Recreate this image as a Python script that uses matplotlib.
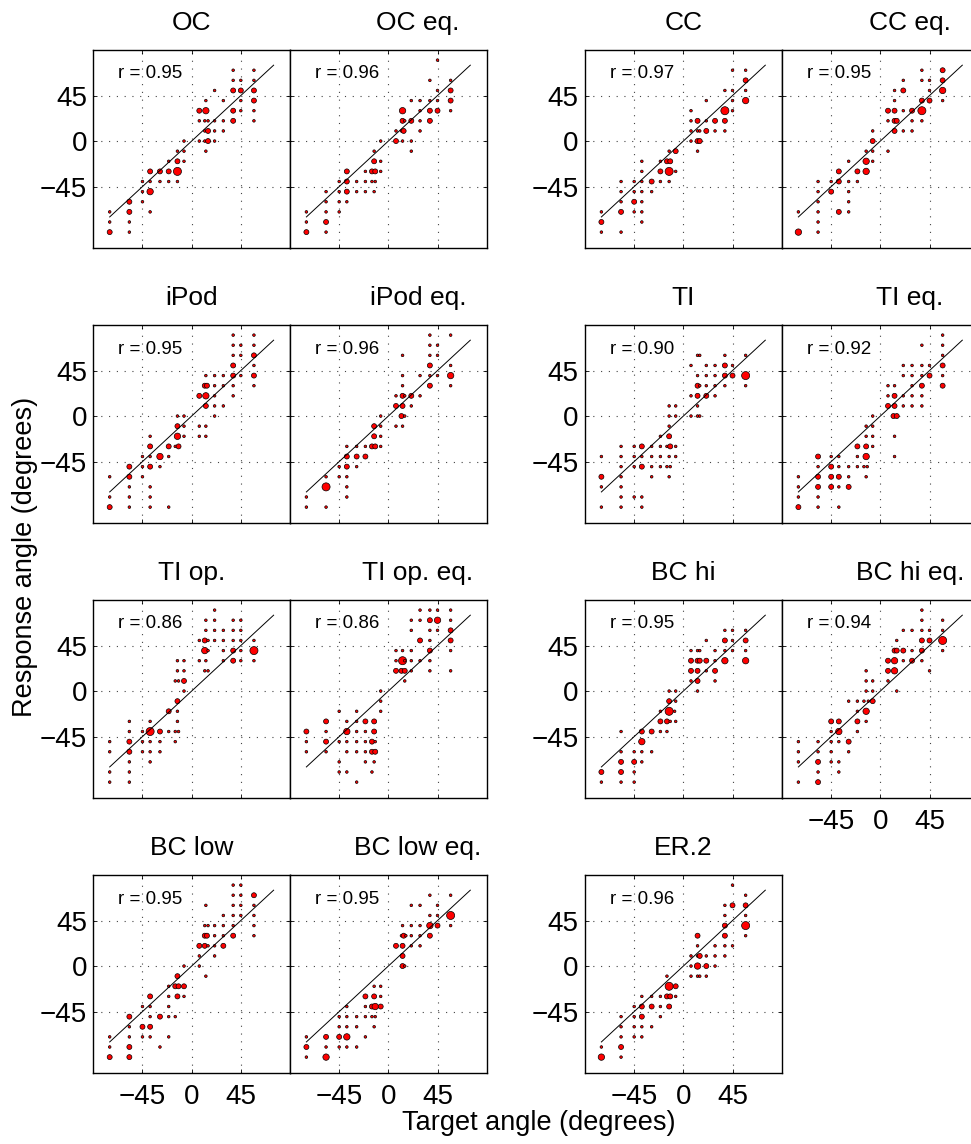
import matplotlib
matplotlib.use("Agg")
import matplotlib.pyplot as plt

plt.rcParams['font.family'] = ['Liberation Sans', 'DejaVu Sans']

# Panel titles and correlation coefficients (row-major order)
titles = ["OC", "OC eq.", "CC", "CC eq.",
          "iPod", "iPod eq.", "TI", "TI eq.",
          "TI op.", "TI op. eq.", "BC hi", "BC hi eq.",
          "BC low", "BC low eq.", "ER.2"]
r_values = [0.95, 0.96, 0.97, 0.95,
            0.95, 0.96, 0.90, 0.92,
            0.86, 0.86, 0.95, 0.94,
            0.95, 0.95, 0.96]

axis_ticks = [-45, 0, 45]

# (target angle, response angle, number of responses)
oc = [(38,70,1),(57,70,1),
      (38,60,1),(45,60,1),(57,60,1),
      (21,50,1),(38,50,2),(45,50,2),(57,50,2),
      (13,40,1),(29,40,1),(45,40,1),(57,40,2),
      (7,30,2),(13,30,3),(38,30,2),(45,30,1),(57,30,1),
      (7,20,1),(12,20,1),(15,20,1),(21,20,1),(29,20,1),(38,20,2),(57,20,1),
      (12,10,1),(15,10,2),(21,10,1),(29,10,1),
      (-7,0,1),(7,0,1),(12,0,1),(15,0,2),(21,0,1),
      (-13,-10,1),(-7,-10,1),(13,-10,1),
      (-21,-20,1),(-13,-20,2),(-7,-20,1),
      (-38,-30,2),(-29,-30,2),(-21,-30,2),(-13,-30,4),
      (-45,-40,1),(-38,-40,1),(-29,-40,1),(-21,-40,1),(-13,-40,1),
      (-45,-50,1),(-38,-50,3),
      (-57,-60,2),(-45,-60,1),
      (-75,-70,1),(-57,-70,2),(-38,-70,1),
      (-75,-80,1),(-57,-80,1),
      (-75,-90,2),(-57,-90,1)]

oc_eq = [(45,80,1),
         (38,60,1),(57,60,1),
         (45,50,1),(57,50,2),
         (21,40,1),(29,40,1),(38,40,1),(45,40,1),(57,40,2),
         (13,30,3),(29,30,1),(38,30,2),(45,30,2),(57,30,1),
         (13,20,2),(15,20,1),(21,20,2),(29,20,1),(38,20,2),
         (7,10,1),(12,10,1),(14,10,2),(29,10,1),
         (-7,0,1),(7,0,2),(13,0,1),(21,0,1),
         (-13,-10,1),(21,-10,1),
         (-13,-20,2),(-7,-20,1),
         (-38,-30,2),(-21,-30,1),(-15,-30,2),(-12,-30,2),(-7,-30,1),
         (-45,-40,1),(-38,-40,2),(-29,-40,1),(-21,-40,1),(-15,-40,1),(-12,-40,1),
         (-57,-50,1),(-45,-50,1),(-38,-50,2),(-29,-50,1),(-21,-50,1),(-13,-50,1),
         (-57,-60,1),(-45,-60,1),(-38,-60,1),
         (-75,-70,1),(-57,-70,1),(-45,-70,1),
         (-75,-80,1),(-57,-80,2),
         (-75,-90,2),(-57,-90,1)]

cc = [(45,70,1),(57,70,1),
      (57,60,2),
      (38,50,1),(45,50,1),(57,50,1),
      (21,40,1),(45,40,1),(57,40,3),
      (7,30,1),(38,30,4),(45,30,1),
      (7,20,1),(13,20,2),(21,20,1),(29,20,2),(38,20,2),
      (7,10,1),(13,10,1),(15,10,1),(21,10,2),(29,10,1),(38,10,1),
      (7,0,1),(13,0,2),(15,0,2),
      (-13,-10,1),(-7,-10,2),(13,-10,1),
      (-38,-20,1),(-21,-20,1),(-15,-20,2),(-12,-20,2),
      (-38,-30,1),(-21,-30,2),(-13,-30,4),(-7,-30,1),
      (-57,-40,1),(-45,-40,1),(-38,-40,1),(-29,-40,2),(-21,-40,1),(-13,-40,1),
      (-57,-50,1),(-45,-50,1),(-38,-50,1),(-29,-50,1),
      (-57,-60,1),(-45,-60,2),(-38,-60,1),
      (-75,-70,1),(-57,-70,2),(-45,-70,1),(-38,-70,1),
      (-75,-80,2),(-38,-80,1),
      (-75,-90,1),(-57,-90,1)]

cc_eq = [(38,70,1),(57,70,2),
         (21,60,1),(38,60,1),(45,60,1),(57,60,2),
         (13,50,1),(21,50,2),(45,50,1),(57,50,3),
         (13,40,1),(38,40,2),(45,40,2),(57,40,1),
         (7,30,2),(13,30,2),(21,30,1),(29,30,2),(38,30,4),
         (7,20,1),(13,20,2),(15,20,2),(29,20,1),(38,20,1),
         (-7,10,1),(13,10,2),(21,10,1),(29,10,1),
         (-7,0,2),
         (-13,-10,1),(-7,-10,1),(7,-10,1),
         (-29,-20,1),(-13,-20,3),(-7,-20,1),
         (-38,-30,2),(-21,-30,2),(-13,-30,3),
         (-57,-40,1),(-45,-40,1),(-38,-40,2),(-29,-40,1),(-21,-40,1),
         (-57,-50,1),(-45,-50,2),(-29,-50,1),
         (-57,-60,1),(-29,-60,1),
         (-75,-70,1),(-57,-70,1),(-38,-70,2),(-29,-70,1),
         (-57,-80,1),
         (-75,-90,3),(-57,-90,1)]

ipod = [(38,80,1),(57,80,1),
        (38,70,1),(45,70,1),(57,70,1),
        (38,60,1),(45,60,1),(57,60,2),
        (38,50,2),(57,50,1),
        (13,40,1),(21,40,1),(29,40,1),(38,40,2),(45,40,1),(57,40,2),
        (12,30,2),(14,30,2),(21,30,1),(29,30,1),(38,30,1),(57,30,1),
        (7,20,2),(13,20,3),(21,20,1),(38,20,1),
        (13,10,2),(21,10,1),(29,10,1),
        (-13,0,1),(-7,0,1),(21,0,1),
        (-13,-10,2),(-7,-10,1),(7,-10,1),(13,-10,1),
        (-38,-20,1),(-13,-20,3),(-7,-20,1),(7,-20,1),(13,-20,1),
        (-38,-30,2),(-21,-30,2),(-15,-30,1),(-12,-30,2),
        (-45,-40,1),(-38,-40,1),(-29,-40,3),(-21,-40,1),
        (-57,-50,2),(-45,-50,1),(-38,-50,2),(-29,-50,1),
        (-75,-60,1),(-57,-60,2),(-45,-60,1),
        (-57,-70,1),(-38,-70,1),
        (-75,-80,1),(-57,-80,1),(-38,-80,1),
        (-75,-90,2),(-57,-90,1),(-38,-90,1),(-21,-90,1)]

ipod_eq = [(38,80,1),(57,80,1),
           (38,70,1),(45,70,1),
           (13,60,1),(38,60,1),(45,60,1),
           (38,50,2),(57,50,1),
           (13,40,1),(29,40,1),(38,40,1),(45,40,1),(57,40,3),
           (13,30,1),(38,30,2),(57,30,1),
           (7,20,1),(13,20,2),(15,20,1),(21,20,2),(29,20,1),
           (7,10,2),(13,10,2),(21,10,1),
           (-7,0,1),(12,0,2),(15,0,1),
           (-13,-10,2),(-7,-10,1),(7,-10,1),(13,-10,1),
           (-13,-20,2),(-7,-20,1),
           (-38,-30,1),(-29,-30,1),(-21,-30,1),(-15,-30,2),(-12,-30,2),(-7,-30,1),
           (-38,-40,2),(-29,-40,2),(-21,-40,2),
           (-45,-50,1),(-38,-50,2),(-29,-50,1),
           (-57,-60,1),(-45,-60,1),(-38,-60,1),
           (-57,-70,4),(-38,-70,1),
           (-75,-80,1),(-38,-80,1),
           (-75,-90,1),(-57,-90,1)]

ti = [(13,60,1),(15,60,1),(38,60,1),(57,60,1),
      (7,50,1),(21,50,1),(29,50,1),(38,50,2),(45,50,1),
      (13,40,1),(21,40,1),(29,40,1),(38,40,2),(45,40,2),(57,40,4),
      (13,30,2),(15,30,1),(21,30,1),(29,30,1),(38,30,1),(57,30,1),
      (7,20,1),(13,20,2),(21,20,2),(29,20,1),
      (-13,10,1),(-7,10,1),(13,10,1),
      (-13,0,1),(-7,0,1),(7,0,1),(13,0,1),(15,0,1),
      (-13,-10,1),
      (-21,-20,1),(-13,-20,2),
      (-57,-30,1),(-45,-30,1),(-38,-30,2),(-29,-30,1),(-21,-30,1),(-15,-30,1),(-12,-30,2),(-7,-30,1),
      (-75,-40,1),(-57,-40,1),(-45,-40,1),(-38,-40,1),(-29,-40,1),(-21,-40,1),(-13,-40,1),(-7,-40,1),
      (-57,-50,1),(-45,-50,1),(-38,-50,2),(-29,-50,1),(-21,-50,1),(-15,-50,1),(-12,-50,1),
      (-75,-60,2),(-57,-60,1),(-29,-60,1),(-13,-60,1),
      (-75,-70,1),(-57,-70,1),
      (-57,-80,1),(-45,-80,1),(-38,-80,1),
      (-75,-90,1),(-57,-90,1),(-38,-90,1)]

ti_eq = [(57,80,1),
         (38,70,1),(57,70,1),
         (57,60,1),
         (21,50,1),(29,50,1),(38,50,1),(45,50,1),(57,50,2),
         (21,40,1),(29,40,1),(38,40,1),(45,40,2),(57,40,1),
         (7,30,1),(13,30,1),(29,30,1),(38,30,2),(57,30,2),
         (7,20,1),(13,20,2),(21,20,1),(29,20,1),(38,20,1),
         (7,10,2),(13,10,2),(21,10,1),(29,10,1),(38,10,1),
         (-7,0,1),(12,0,2),(15,0,2),
         (-13,-10,1),(-7,-10,1),
         (-13,-20,1),(-7,-20,1),(13,-20,1),
         (-21,-30,2),(-13,-30,2),(-7,-30,1),
         (-57,-40,2),(-45,-40,1),(-38,-40,1),(-21,-40,1),(-13,-40,3),(13,-40,1),
         (-57,-50,1),(-45,-50,2),(-38,-50,1),(-29,-50,1),(-21,-50,1),(-15,-50,1),(-12,-50,1),
         (-75,-60,1),(-57,-60,2),(-45,-60,2),(-38,-60,2),(-29,-60,1),(-13,-60,1),
         (-75,-70,1),(-57,-70,2),(-45,-70,2),(-38,-70,1),(-29,-70,2),
         (-75,-80,1),(-57,-80,1),
         (-75,-90,2),(-57,-90,1),(-38,-90,1)]

ti_op = [(21,80,1),
         (13,70,1),(21,70,1),(38,70,1),(45,70,1),
         (13,60,1),(21,60,1),(29,60,1),(38,60,1),(45,60,1),
         (7,50,1),(12,50,2),(15,50,1),(21,50,1),(29,50,1),(38,50,1),(45,50,1),(57,50,1),
         (12,40,3),(15,40,1),(29,40,1),(38,40,2),(45,40,1),(57,40,4),
         (-13,30,1),(-7,30,1),(7,30,1),(13,30,1),(29,30,1),(38,30,2),(45,30,1),(57,30,1),
         (-13,20,1),(-7,20,1),(12,20,1),(15,20,1),
         (-15,10,1),(-12,10,1),(-7,10,2),
         (-7,0,1),
         (-13,-10,2),
         (-21,-20,2),(-13,-20,1),
         (-57,-30,1),(-38,-30,1),(-13,-30,1),
         (-57,-40,1),(-45,-40,1),(-38,-40,4),(-29,-40,2),(-21,-40,1),(-15,-40,1),(-12,-40,1),
         (-75,-50,1),(-57,-50,2),(-45,-50,1),(-38,-50,1),(-29,-50,1),(-15,-50,1),
         (-75,-60,1),(-57,-60,2),(-45,-60,1),(-38,-60,1),(-29,-60,1),
         (-57,-70,1),(-38,-70,1),
         (-75,-80,1),(-57,-80,1),
         (-75,-90,1),(-57,-90,1)]

ti_op_eq = [(29,80,1),(38,80,1),(45,80,1),(57,80,1),
            (21,70,1),(29,70,1),(38,70,2),(45,70,3),(57,70,1),
            (21,60,1),(38,60,1),(45,60,1),(57,60,2),
            (29,50,2),(38,50,1),(57,50,2),
            (7,40,1),(13,40,1),(21,40,1),(38,40,2),(57,40,1),
            (7,30,1),(13,30,4),(15,30,1),(21,30,1),(29,30,1),(38,30,1),
            (7,20,2),(12,20,2),(15,20,2),(21,20,1),(38,20,1),(57,20,1),
            (15,10,1),
            (-7,0,1),
            (-7,-10,1),
            (-45,-20,1),(-29,-20,1),(-7,-20,1),
            (-57,-30,2),(-38,-30,1),(-29,-30,1),(-21,-30,2),(-13,-30,2),
            (-75,-40,2),(-57,-40,1),(-38,-40,3),(-29,-40,1),(-21,-40,1),(-13,-40,2),
            (-75,-50,1),(-57,-50,2),(-45,-50,1),(-38,-50,1),(-29,-50,1),(-21,-50,1),(-15,-50,2),(-12,-50,1),
            (-75,-60,1),(-57,-60,1),(-38,-60,1),(-29,-60,1),(-21,-60,1),(-15,-60,2),(-12,-60,2),
            (-45,-70,1),(-21,-70,1),(-13,-70,1),
            (-45,-80,1),(-38,-80,1),(-15,-80,1),
            (-29,-90,1)]

bc_hi = [(38,60,1),(45,60,1),(57,60,1),
         (21,50,1),(38,50,2),(45,50,1),(57,50,2),
         (7,40,1),(13,40,1),(15,40,1),(29,40,1),(38,40,1),(45,40,1),(57,40,1),
         (7,30,2),(13,30,2),(15,30,2),(21,30,2),(29,30,1),(38,30,3),(57,30,3),
         (7,20,2),(13,20,2),(21,20,1),(29,20,2),
         (7,10,1),(13,10,2),(29,10,1),
         (-13,0,1),(-7,0,1),(13,0,1),
         (-13,-10,2),(-7,-10,1),
         (-21,-20,1),(-13,-20,4),(-8,-20,1),
         (-21,-30,2),(-15,-30,2),(-12,-30,1),(-7,-30,1),
         (-57,-40,1),(-38,-40,2),(-29,-40,2),(-21,-40,1),(-15,-40,1),
         (-38,-50,3),
         (-57,-60,1),(-45,-60,1),(-38,-60,1),(-29,-60,1),
         (-57,-70,2),(-45,-70,2),(-38,-70,1),
         (-75,-80,2),(-57,-80,2),(-45,-80,1),
         (-75,-90,1),(-57,-90,1),(-45,-90,1)]

bc_hi_eq = [(38,80,1),
            (38,70,1),(57,70,1),
            (21,60,1),(29,60,1),(38,60,1),(45,60,1),(57,60,1),
            (15,50,1),(38,50,2),(45,50,2),(57,50,4),
            (13,40,2),(15,40,2),(21,40,2),(29,40,1),(38,40,2),(57,40,1),
            (7,30,2),(13,30,3),(21,30,1),(29,30,2),(38,30,1),
            (-13,20,1),(7,20,2),(13,20,3),(45,20,1),
            (-13,10,1),(-7,10,1),(7,10,1),
            (-13,0,1),(-7,0,1),(15,0,1),
            (-29,-10,1),(-21,-10,1),(-15,-10,1),(-11,-10,1),(-7,-10,2),
            (-21,-20,1),(-13,-20,3),
            (-45,-30,2),(-38,-30,2),(-21,-30,2),(-13,-30,1),
            (-45,-40,1),(-38,-40,3),(-21,-40,1),
            (-75,-50,1),(-57,-50,1),(-45,-50,1),(-38,-50,1),(-29,-50,2),
            (-75,-60,1),(-57,-60,1),(-45,-60,1),(-29,-60,1),
            (-75,-70,1),(-57,-70,2),(-45,-70,1),(-38,-70,1),
            (-57,-80,1),(-38,-80,1),
            (-75,-90,1),(-57,-90,2)]

bc_low = [(38,80,1),(45,80,1),
          (38,70,1),(45,70,1),(57,70,2),
          (13,60,1),(38,60,1),(45,60,1),(57,60,1),
          (29,50,1),(38,50,1),(45,50,1),(57,50,1),
          (12,40,1),(15,40,1),(21,40,1),(29,40,1),(38,40,1),(57,40,1),
          (12,30,2),(14,30,2),(21,30,1),(29,30,1),(38,30,2),(57,30,1),
          (7,20,2),(12,20,2),(15,20,1),(21,20,1),(29,20,2),
          (7,10,1),(21,10,1),
          (-7,0,1),(7,0,1),
          (-13,-10,2),(13,-10,1),
          (-21,-20,1),(-15,-20,2),(-12,-20,2),(-7,-20,2),
          (-38,-30,2),(-21,-30,1),(-13,-30,2),(-7,-30,1),
          (-45,-40,1),(-38,-40,1),(-21,-40,1),
          (-57,-50,2),(-38,-50,1),(-29,-50,2),(-21,-50,1),(-15,-50,1),
          (-57,-60,1),(-45,-60,2),(-38,-60,2),
          (-75,-70,1),(-57,-70,1),(-45,-70,1),(-38,-70,1),(-21,-70,1),
          (-75,-80,1),(-57,-80,2),(-29,-80,1),
          (-75,-90,2),(-57,-90,2)]

bc_low_eq = [(38,70,1),(57,70,1),
             (21,60,1),(29,60,1),(45,60,1),
             (38,50,1),(45,50,1),(57,50,4),
             (13,40,1),(21,40,1),(29,40,1),(38,40,3),(45,40,2),(57,40,1),
             (12,30,1),(14,30,2),(16,30,1),(21,30,1),(29,30,1),(38,30,2),
             (7,20,2),(13,20,2),(21,20,1),(29,20,1),
             (13,10,2),
             (13,0,2),(15,0,1),
             (-13,-20,1),(-7,-20,1),
             (-21,-30,2),(-13,-30,2),(-7,-30,1),
             (-38,-40,1),(-21,-40,1),(-15,-40,2),(-12,-40,3),(-7,-40,2),
             (-45,-50,1),(-38,-50,1),(-29,-50,1),(-21,-50,1),(-15,-50,1),(-12,-50,1),
             (-45,-60,1),(-38,-60,1),(-29,-60,1),(-13,-60,1),
             (-75,-70,1),(-57,-70,2),(-45,-70,2),(-38,-70,3),(-21,-70,1),
             (-75,-80,2),(-57,-80,1),(-45,-80,1),(-38,-80,1),(-29,-80,1),
             (-75,-90,1),(-57,-90,3)]

er2 = [(45,80,1),
       (57,70,1),
       (38,60,1),(45,60,2),(57,60,2),
       (38,50,1),(57,50,1),
       (38,40,2),(57,40,4),
       (13,30,2),(38,30,2),(57,30,1),
       (13,20,1),(29,20,1),(38,20,1),(45,20,1),
       (7,10,1),(13,10,1),(15,10,2),(21,10,1),(29,10,1),(38,10,1),
       (7,0,1),(13,0,3),(21,0,2),(29,0,1),
       (-15,-10,1),(7,-10,1),(13,-10,1),(15,-10,1),(21,-10,1),
       (-13,-20,4),(-7,-20,2),
       (-38,-30,1),(-29,-30,1),(-21,-30,1),(-15,-30,2),(-12,-30,2),(-7,-30,1),
       (-45,-40,1),(-38,-40,2),(-29,-40,2),(-21,-40,1),(-13,-40,2),
       (-57,-50,1),(-45,-50,1),(-38,-50,2),(-21,-50,1),
       (-57,-60,1),(-45,-60,1),(-38,-60,1),(-29,-60,1),
       (-57,-70,1),(-45,-70,1),(-38,-70,1),
       (-75,-80,1),(-57,-80,2),
       (-75,-90,3),(-57,-90,1)]

panels = [oc, oc_eq, cc, cc_eq,
          ipod, ipod_eq, ti, ti_eq,
          ti_op, ti_op_eq, bc_hi, bc_hi_eq,
          bc_low, bc_low_eq, er2]

# ---- layout (pixels on a 971 x 1144 canvas) ----
W, H = 971.0, 1144.0
col_left = [93.3, 290.0, 585.0, 782.0]
row_top = [50.0, 325.0, 600.0, 875.0]
ax_w, ax_h = 196.7, 198.3

marker_diam = {1: 1.9, 2: 3.6, 3: 4.6, 4: 5.8}   # points

fig = plt.figure(figsize=(W / 100, H / 100), dpi=100)

for i, (title, r, data) in enumerate(zip(titles, r_values, panels)):
    row, col = divmod(i, 4)
    left = col_left[col] / W
    bottom = 1 - (row_top[row] + ax_h) / H
    ax = fig.add_axes([left, bottom, ax_w / W, ax_h / H])

    xs = [p[0] for p in data]
    ys = [p[1] for p in data]
    ss = [marker_diam[p[2]] ** 2 for p in data]
    ax.scatter(xs, ys, s=ss, c='#ff0000', edgecolors='black',
               linewidths=0.5, zorder=3)
    ax.plot([-75, 75], [-75, 75], color='black', lw=0.7, zorder=4)

    ax.set_xlim(-90, 90)
    ax.set_ylim(-106, 90)
    ax.set_xticks(axis_ticks)
    ax.set_yticks(axis_ticks)
    ax.grid(True, color='#444444', linestyle=(0, (1, 6)), linewidth=0.8)
    ax.set_axisbelow(True)
    ax.tick_params(direction='in', length=3, width=0.6, labelsize=20,
                   top=True, right=True)
    ax.tick_params(axis='y', pad=4.5)
    ax.tick_params(axis='x', pad=8)
    for sp in ax.spines.values():
        sp.set_linewidth(1.0)

    if col in (0, 2):
        ax.set_yticklabels(["\u221245", "0", "45"])
    else:
        ax.set_yticklabels([])
    if row == 3 or (row == 2 and col == 3):
        ax.set_xticklabels(["\u221245", "0", "45"])
    else:
        ax.set_xticklabels([])

    # equalised-condition titles sit right of the panel centre
    tx = 0.65 if col in (1, 3) else 0.5
    ax.text(tx, 1 + 20 / ax_h, title, transform=ax.transAxes,
            fontsize=19, ha='center', va='baseline')
    ax.text(25 / ax_w, 1 - 24 / ax_h, "r = %.2f" % r, transform=ax.transAxes,
            fontsize=13.5, ha='left', va='center', zorder=5)

fig.text(24.6 / W, 1 - 557 / H, "Response angle (degrees)", rotation=90,
         ha='center', va='center', fontsize=19.5)
fig.text(539 / W, 1 - 1130 / H, "Target angle (degrees)",
         ha='center', va='baseline', fontsize=19.5)

fig.savefig("out.png", dpi=100)
